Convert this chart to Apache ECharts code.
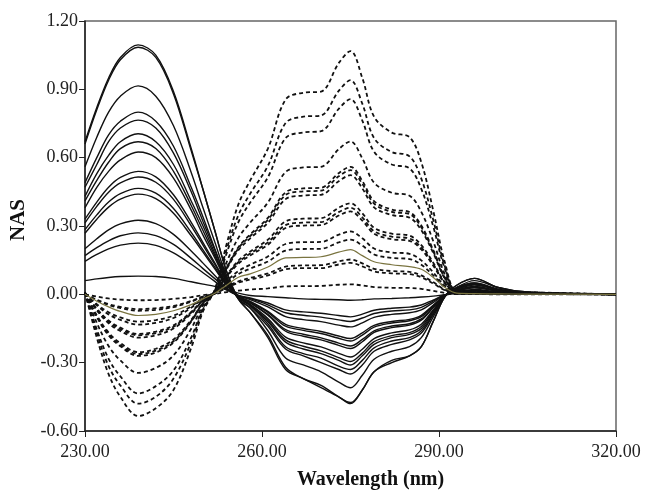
<!DOCTYPE html>
<html>
<head>
<meta charset="utf-8">
<script src="https://cdn.jsdelivr.net/npm/echarts@6.0.0/dist/echarts.min.js"></script>
<style>
  html, body { margin: 0; padding: 0; background: #fff; }
  #main { width: 648px; height: 495px; }
</style>
</head>
<body>
<div id="main"></div>
<script>
var myChart = echarts.init(document.getElementById('main'));

// wavelength grid (nm)
var wavelengths = [230,232,234,236,239,242,245,248,250,252,254,256,258,261,264,267,270,273,275,277,279,282,285,287,289,291,293,296,300,305,320];

// solid NAS curves (big positive lobe at ~239 nm)
var solid01 = [0.67,0.82,0.95,1.04,1.095,1.05,0.89,0.64,0.46,0.28,0.10,-0.02,-0.08,-0.19,-0.33,-0.37,-0.41,-0.45,-0.48,-0.42,-0.34,-0.30,-0.27,-0.23,-0.12,-0.01,0.04,0.07,0.03,0.01,0];
var solid02 = [0.66,0.81,0.94,1.03,1.085,1.04,0.88,0.63,0.46,0.28,0.10,-0.02,-0.08,-0.18,-0.32,-0.37,-0.40,-0.45,-0.475,-0.42,-0.34,-0.29,-0.27,-0.23,-0.12,-0.01,0.04,0.07,0.03,0.01,0];
var solid03 = [0.56,0.69,0.80,0.87,0.915,0.87,0.74,0.535,0.38,0.23,0.08,-0.02,-0.06,-0.16,-0.28,-0.31,-0.34,-0.385,-0.41,-0.355,-0.285,-0.25,-0.23,-0.19,-0.10,-0.01,0.03,0.06,0.03,0.005,0];
var solid04 = [0.49,0.60,0.70,0.76,0.80,0.76,0.65,0.47,0.34,0.20,0.07,-0.02,-0.06,-0.14,-0.24,-0.27,-0.30,-0.33,-0.35,-0.31,-0.25,-0.22,-0.20,-0.17,-0.09,-0.01,0.03,0.05,0.02,0.004,0];
var solid05 = [0.47,0.57,0.67,0.73,0.765,0.73,0.62,0.45,0.32,0.195,0.07,-0.015,-0.05,-0.13,-0.23,-0.26,-0.28,-0.315,-0.33,-0.29,-0.235,-0.205,-0.19,-0.16,-0.085,-0.008,0.027,0.05,0.023,0.004,0];
var solid06 = [0.43,0.53,0.61,0.67,0.705,0.67,0.57,0.41,0.30,0.18,0.06,-0.014,-0.05,-0.12,-0.21,-0.24,-0.26,-0.29,-0.31,-0.27,-0.22,-0.19,-0.176,-0.15,-0.078,-0.007,0.025,0.046,0.021,0.004,0];
var solid07 = [0.41,0.50,0.58,0.64,0.67,0.64,0.54,0.39,0.28,0.17,0.06,-0.013,-0.047,-0.114,-0.20,-0.228,-0.248,-0.278,-0.295,-0.258,-0.208,-0.181,-0.168,-0.141,-0.074,-0.007,0.023,0.044,0.02,0.003,0];
var solid08 = [0.38,0.47,0.54,0.59,0.625,0.60,0.51,0.37,0.26,0.16,0.056,-0.013,-0.044,-0.106,-0.188,-0.213,-0.231,-0.259,-0.275,-0.241,-0.194,-0.169,-0.156,-0.131,-0.069,-0.006,0.022,0.041,0.019,0.003,0];
var solid09 = [0.33,0.405,0.47,0.513,0.54,0.516,0.437,0.316,0.227,0.138,0.049,-0.011,-0.038,-0.092,-0.162,-0.184,-0.2,-0.224,-0.238,-0.208,-0.167,-0.146,-0.135,-0.113,-0.059,-0.005,0.019,0.035,0.016,0.003,0];
var solid10 = [0.314,0.386,0.448,0.489,0.515,0.492,0.417,0.301,0.216,0.131,0.046,-0.01,-0.036,-0.088,-0.155,-0.175,-0.191,-0.214,-0.227,-0.198,-0.16,-0.139,-0.129,-0.108,-0.057,-0.005,0.018,0.033,0.015,0.003,0];
var solid11 = [0.284,0.349,0.405,0.442,0.465,0.444,0.377,0.272,0.195,0.119,0.042,-0.009,-0.033,-0.079,-0.14,-0.158,-0.172,-0.193,-0.205,-0.179,-0.144,-0.126,-0.116,-0.098,-0.051,-0.005,0.016,0.03,0.014,0.002,0];
var solid12 = [0.268,0.33,0.383,0.418,0.44,0.42,0.356,0.257,0.185,0.112,0.04,-0.009,-0.031,-0.075,-0.132,-0.15,-0.163,-0.183,-0.194,-0.169,-0.136,-0.119,-0.11,-0.092,-0.048,-0.004,0.015,0.029,0.013,0.002,0];
var solid13 = [0.2,0.244,0.283,0.309,0.325,0.31,0.263,0.19,0.137,0.083,0.029,-0.007,-0.023,-0.055,-0.098,-0.111,-0.12,-0.135,-0.143,-0.125,-0.101,-0.088,-0.081,-0.068,-0.036,-0.003,0.011,0.021,0.01,0.002,0];
var solid14 = [0.17,0.205,0.235,0.257,0.27,0.258,0.219,0.158,0.113,0.069,0.024,-0.005,-0.019,-0.046,-0.081,-0.092,-0.1,-0.112,-0.119,-0.104,-0.084,-0.073,-0.068,-0.057,-0.03,-0.003,0.009,0.018,0.008,0.001,0];
var solid15 = [0.145,0.175,0.2,0.216,0.225,0.215,0.182,0.132,0.095,0.057,0.02,-0.005,-0.016,-0.038,-0.068,-0.077,-0.083,-0.093,-0.099,-0.087,-0.07,-0.061,-0.056,-0.047,-0.025,-0.002,0.008,0.015,0.007,0.001,0];
var solid16 = [0.06,0.068,0.074,0.078,0.08,0.078,0.07,0.055,0.045,0.035,0.02,0.005,-0.005,-0.01,-0.015,-0.02,-0.022,-0.024,-0.026,-0.024,-0.02,-0.018,-0.015,-0.012,-0.008,-0.002,0.003,0.005,0.003,0,0];

// dashed NAS curves (negative lobe at ~239 nm, peak at ~275 nm)
var dash01 = [0.01,-0.19,-0.35,-0.45,-0.534,-0.50,-0.42,-0.235,-0.075,0.02,0.22,0.395,0.50,0.64,0.855,0.885,0.89,1.015,1.068,0.95,0.78,0.71,0.69,0.58,0.37,0.14,0.016,0.016,0.011,0.009,0];
var dash02 = [0.01,-0.17,-0.315,-0.40,-0.48,-0.45,-0.37,-0.21,-0.066,0.019,0.197,0.348,0.442,0.564,0.752,0.78,0.785,0.893,0.94,0.837,0.686,0.625,0.606,0.508,0.329,0.122,0.014,0.014,0.009,0.008,0];
var dash03 = [0.009,-0.154,-0.283,-0.36,-0.435,-0.403,-0.334,-0.189,-0.06,0.017,0.18,0.317,0.403,0.514,0.686,0.711,0.716,0.814,0.857,0.763,0.626,0.57,0.553,0.463,0.3,0.111,0.013,0.013,0.009,0.007,0];
var dash04 = [0.007,-0.125,-0.227,-0.29,-0.345,-0.323,-0.268,-0.151,-0.048,0.013,0.141,0.248,0.315,0.403,0.537,0.557,0.56,0.637,0.671,0.597,0.49,0.446,0.433,0.362,0.235,0.087,0.01,0.01,0.007,0.005,0];
var dash05 = [0.006,-0.1,-0.18,-0.228,-0.27,-0.255,-0.212,-0.12,-0.039,0.011,0.118,0.207,0.263,0.336,0.448,0.465,0.468,0.532,0.56,0.498,0.409,0.372,0.361,0.302,0.196,0.073,0.008,0.008,0.006,0.004,0];
var dash06 = [0.005,-0.096,-0.175,-0.222,-0.262,-0.247,-0.206,-0.117,-0.038,0.011,0.114,0.202,0.256,0.327,0.436,0.452,0.455,0.518,0.545,0.485,0.398,0.362,0.352,0.294,0.191,0.071,0.008,0.008,0.005,0.004,0];
var dash07 = [0.005,-0.092,-0.168,-0.214,-0.254,-0.239,-0.198,-0.112,-0.037,0.01,0.11,0.194,0.246,0.314,0.418,0.434,0.437,0.497,0.523,0.465,0.382,0.348,0.337,0.282,0.183,0.068,0.008,0.008,0.005,0.004,0];
var dash08 = [0.004,-0.07,-0.127,-0.161,-0.19,-0.18,-0.15,-0.085,-0.028,0.008,0.084,0.148,0.188,0.24,0.32,0.332,0.334,0.38,0.40,0.356,0.292,0.266,0.258,0.216,0.14,0.052,0.006,0.006,0.004,0.003,0];
var dash09 = [0.004,-0.066,-0.12,-0.153,-0.18,-0.17,-0.142,-0.08,-0.027,0.008,0.08,0.141,0.179,0.228,0.304,0.315,0.317,0.361,0.38,0.338,0.277,0.253,0.245,0.205,0.133,0.049,0.006,0.006,0.004,0.003,0];
var dash10 = [0.004,-0.063,-0.115,-0.146,-0.174,-0.164,-0.136,-0.077,-0.025,0.007,0.076,0.135,0.171,0.218,0.291,0.302,0.304,0.346,0.364,0.324,0.266,0.242,0.235,0.197,0.127,0.047,0.005,0.005,0.004,0.003,0];
var dash11 = [0.003,-0.048,-0.088,-0.112,-0.133,-0.125,-0.104,-0.059,-0.019,0.006,0.058,0.102,0.13,0.166,0.221,0.229,0.23,0.262,0.276,0.246,0.201,0.184,0.178,0.149,0.097,0.036,0.004,0.004,0.003,0.002,0];
var dash12 = [0.002,-0.043,-0.079,-0.101,-0.12,-0.113,-0.094,-0.053,-0.017,0.005,0.05,0.089,0.113,0.144,0.192,0.199,0.2,0.228,0.24,0.214,0.175,0.16,0.155,0.13,0.084,0.031,0.004,0.004,0.002,0.002,0];
var dash13 = [0.002,-0.026,-0.047,-0.06,-0.072,-0.068,-0.056,-0.032,-0.011,0.003,0.032,0.057,0.072,0.092,0.122,0.127,0.128,0.145,0.153,0.136,0.112,0.102,0.099,0.083,0.054,0.02,0.002,0.002,0.002,0.001,0];
var dash14 = [0.001,-0.024,-0.043,-0.055,-0.065,-0.061,-0.051,-0.029,-0.01,0.003,0.029,0.051,0.065,0.083,0.11,0.115,0.115,0.131,0.138,0.123,0.101,0.092,0.089,0.075,0.048,0.018,0.002,0.002,0.001,0.001,0];
var dash15 = [0,-0.01,-0.018,-0.023,-0.026,-0.025,-0.02,-0.012,-0.004,0.002,0.01,0.016,0.021,0.026,0.035,0.036,0.037,0.042,0.044,0.039,0.032,0.029,0.028,0.024,0.015,0.006,0.001,0.001,0,0,0];

// the single olive curve
var olive01 = [0,-0.03,-0.055,-0.075,-0.093,-0.088,-0.072,-0.045,-0.02,0.005,0.04,0.075,0.09,0.12,0.16,0.162,0.165,0.185,0.196,0.17,0.143,0.13,0.122,0.11,0.075,0.03,0.005,0.003,0.002,0.001,0];

var solidList = [solid01,solid02,solid03,solid04,solid05,solid06,solid07,solid08,solid09,solid10,solid11,solid12,solid13,solid14,solid15,solid16];
var dashList = [dash01,dash02,dash03,dash04,dash05,dash06,dash07,dash08,dash09,dash10,dash11,dash12,dash13,dash14,dash15];

function pairs(vals) {
    return vals.map(function (v, i) { return [wavelengths[i], v]; });
}

var serif = "'Liberation Serif', 'Times New Roman', serif";
var series = [];

solidList.forEach(function (vals, i) {
    series.push({
        name: 'solid' + (i + 1),
        type: 'line',
        smooth: 0.35,
        symbol: 'none',
        data: pairs(vals),
        lineStyle: { color: '#111', width: 1.4 }
    });
});

dashList.forEach(function (vals, i) {
    series.push({
        name: 'dash' + (i + 1),
        type: 'line',
        smooth: 0.35,
        symbol: 'none',
        data: pairs(vals),
        lineStyle: { color: '#111', width: 1.8, type: [4, 3] }
    });
});

series.push({
    name: 'olive',
    type: 'line',
    smooth: 0.35,
    symbol: 'none',
    data: pairs(olive01),
    lineStyle: { color: '#7a7440', width: 1.2 }
});

option = {
    backgroundColor: '#ffffff',
    animation: false,
    grid: {
        left: 85,
        right: 32,
        top: 21,
        bottom: 61,
        show: true,
        borderColor: '#666',
        borderWidth: 1.5
    },
    xAxis: {
        type: 'value',
        min: 230,
        max: 320,
        interval: 30,
        name: 'Wavelength (nm)',
        nameLocation: 'middle',
        nameGap: 39,
        nameTextStyle: {
            fontFamily: serif,
            fontWeight: 'bold',
            fontSize: 20,
            color: '#111',
            padding: [0, 0, 0, 40]
        },
        axisLine: { onZero: false, lineStyle: { color: '#222', width: 1.5 } },
        axisTick: { inside: false, length: 6, lineStyle: { color: '#222' } },
        axisLabel: {
            margin: 12,
            fontFamily: serif,
            fontSize: 18,
            color: '#222',
            formatter: function (v) { return v.toFixed(2); }
        },
        splitLine: { show: false }
    },
    yAxis: {
        type: 'value',
        min: -0.6,
        max: 1.2,
        interval: 0.3,
        name: 'NAS',
        nameLocation: 'middle',
        nameGap: 56,
        nameTextStyle: {
            fontFamily: serif,
            fontWeight: 'bold',
            fontSize: 21,
            color: '#111',
            padding: [0, 0, 0, 12]
        },
        axisLine: { show: true, onZero: false, lineStyle: { color: '#222', width: 1.5 } },
        axisTick: { show: true, inside: false, length: 6, lineStyle: { color: '#222' } },
        axisLabel: {
            margin: 7,
            fontFamily: serif,
            fontSize: 18,
            color: '#222',
            formatter: function (v) { return v.toFixed(2); }
        },
        splitLine: { show: false }
    },
    series: series
};

myChart.setOption(option);
</script>
</body>
</html>
